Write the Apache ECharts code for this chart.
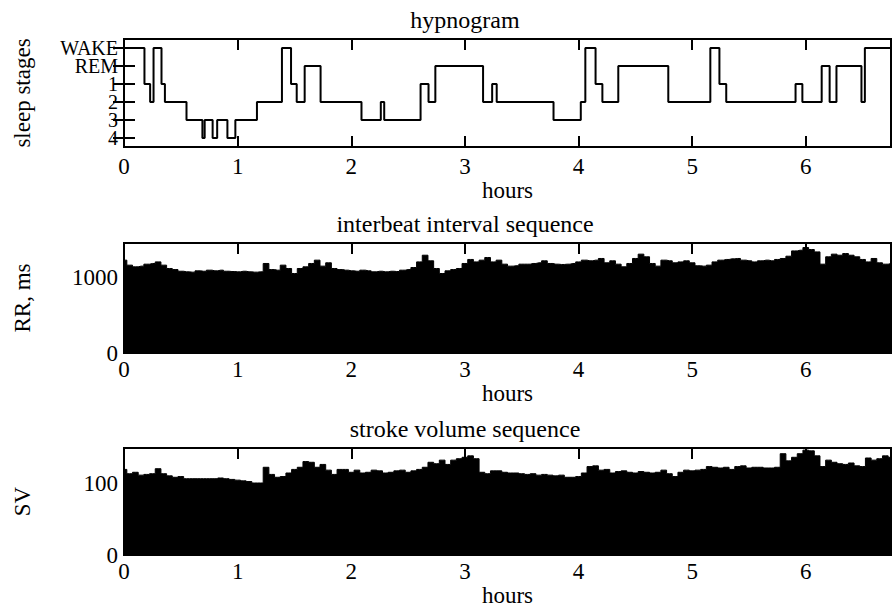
<!DOCTYPE html>
<html>
<head>
<meta charset="utf-8">
<script src="https://cdn.jsdelivr.net/npm/echarts@6/dist/echarts.min.js"></script>
<style>
  html, body { margin: 0; padding: 0; background: #fff; }
  #chart { width: 894px; height: 608px; }
</style>
</head>
<body>
<div id="chart"></div>
<script>
// hypnogram: time (h) at which each stage begins
const stageNames = ['WAKE', 'REM', '1', '2', '3', '4']
const stageTimes = [0, 0.18, 0.23, 0.26, 0.33, 0.36, 0.55, 0.69, 0.71, 0.78,
  0.82, 0.91, 0.98, 1.17, 1.39, 1.47, 1.52, 1.59, 1.73, 2.09,
  2.26, 2.29, 2.61, 2.68, 2.74, 3.16, 3.24, 3.28, 3.78, 4.02,
  4.06, 4.15, 4.21, 4.35, 4.79, 5.16, 5.24, 5.30, 5.91, 5.97,
  6.14, 6.21, 6.27, 6.49, 6.52, 6.75]
const stages = ['WAKE', '1', '2', 'WAKE', '1', '2', '3', '4', '3', '4',
  '3', '4', '3', '2', 'WAKE', '1', '2', 'REM', '2', '3',
  '2', '3', '1', '2', 'REM', '2', '1', '2', '3', '2',
  'WAKE', '1', '2', 'REM', '2', 'WAKE', '1', '2', '1', '2',
  'REM', '2', 'REM', '2', 'WAKE', 'WAKE']

// beat sequences, read every 0.05 h
const sampleStep = 0.05
const rrValues = [
  1224, 1158, 1136, 1145, 1171, 1180, 1201, 1158, 1114, 1100,
  1078, 1070, 1066, 1083, 1078, 1092, 1083, 1092, 1078, 1074,
  1070, 1078, 1070, 1066, 1070, 1180, 1100, 1092, 1158, 1114,
  1048, 1114, 1136, 1180, 1224, 1145, 1189, 1114, 1100, 1092,
  1083, 1078, 1092, 1083, 1070, 1078, 1070, 1078, 1074, 1092,
  1100, 1127, 1201, 1289, 1215, 1114, 1048, 1083, 1100, 1114,
  1180, 1233, 1201, 1224, 1259, 1201, 1224, 1171, 1145, 1150,
  1171, 1171, 1180, 1189, 1215, 1180, 1171, 1167, 1171, 1180,
  1201, 1224, 1215, 1224, 1246, 1189, 1215, 1171, 1136, 1180,
  1246, 1303, 1268, 1180, 1145, 1224, 1215, 1189, 1201, 1215,
  1189, 1150, 1145, 1158, 1201, 1224, 1233, 1241, 1246, 1224,
  1215, 1201, 1215, 1224, 1215, 1233, 1246, 1276, 1346, 1355,
  1390, 1364, 1333, 1171, 1268, 1303, 1289, 1311, 1289, 1268,
  1233, 1201, 1246, 1189, 1171, 1180]
const svValues = [
  120, 114, 116, 112, 113, 114, 121, 114, 111, 109,
  110, 107, 107, 107, 107, 107, 107, 108, 107, 106,
  105, 104, 103, 101, 101, 123, 113, 109, 110, 115,
  120, 123, 131, 130, 123, 127, 119, 113, 120, 120,
  116, 119, 115, 116, 119, 118, 115, 116, 118, 119,
  116, 118, 120, 123, 130, 128, 133, 127, 133, 135,
  137, 139, 135, 116, 114, 118, 118, 116, 115, 115,
  114, 113, 114, 112, 113, 112, 111, 112, 109, 109,
  110, 115, 124, 125, 119, 120, 115, 117, 118, 116,
  115, 117, 116, 115, 116, 119, 114, 110, 116, 119,
  118, 119, 120, 124, 123, 122, 123, 120, 124, 125,
  122, 123, 123, 122, 122, 123, 142, 132, 137, 142,
  147, 146, 139, 124, 133, 130, 128, 127, 129, 125,
  124, 136, 133, 135, 139, 137]

const hoursMax = 6.75
const font = 'Liberation Serif'
const fs = 23

const pairs = (vals) => vals.map((v, i) => [+(i * sampleStep).toFixed(2), v])

const grids = [
  { left: 124, top: 39, width: 771.5, height: 108 },
  { left: 124, top: 243, width: 771.5, height: 110 },
  { left: 124, top: 448, width: 771.5, height: 109 }
]

const tickStyle = { show: true, inside: true, length: 11, lineStyle: { color: '#000', width: 2 } }
const labelStyle = { color: '#000', fontFamily: font, fontSize: fs }

function hourAxis (gridIndex, top, labelMargin, nameGap) {
  return {
    type: 'value',
    gridIndex: gridIndex,
    position: top ? 'top' : 'bottom',
    min: 0,
    max: hoursMax,
    interval: 1,
    splitLine: { show: false },
    axisLine: { show: false },
    axisTick: tickStyle,
    axisLabel: top ? { show: false } : Object.assign({
      margin: labelMargin,
      formatter: v => (Number.isInteger(v) ? String(v) : '')
    }, labelStyle),
    name: top ? '' : 'hours',
    nameLocation: 'middle',
    nameGap: nameGap,
    nameTextStyle: labelStyle
  }
}

const xAxes = [
  hourAxis(0, false, 8, 30), hourAxis(0, true),
  hourAxis(1, false, 5, 27), hourAxis(1, true),
  hourAxis(2, false, 5, 27), hourAxis(2, true)
]

const yAxes = [
  {
    type: 'category',
    gridIndex: 0,
    data: stageNames,
    inverse: true,
    axisLine: { show: false },
    axisTick: Object.assign({ alignWithLabel: true, interval: 0 }, tickStyle),
    axisLabel: { margin: 6, interval: 0, color: '#000', fontFamily: font, fontSize: 20, lineHeight: 17 },
    name: 'sleep stages',
    nameLocation: 'middle',
    nameGap: 90,
    nameTextStyle: labelStyle
  },
  {
    type: 'category',
    gridIndex: 0,
    position: 'right',
    data: stageNames,
    inverse: true,
    axisLine: { show: false },
    axisTick: Object.assign({ alignWithLabel: true, interval: 0 }, tickStyle),
    axisLabel: { show: false }
  },
  {
    type: 'value',
    gridIndex: 1,
    min: 0,
    max: 1450,
    interval: 1000,
    splitLine: { show: false },
    axisLine: { show: false },
    axisTick: tickStyle,
    axisLabel: Object.assign({ margin: 6, formatter: v => (v % 1000 === 0 ? String(v) : '') }, labelStyle),
    name: 'RR, ms',
    nameLocation: 'middle',
    nameGap: 90,
    nameTextStyle: labelStyle
  },
  {
    type: 'value',
    gridIndex: 2,
    min: 0,
    max: 150,
    interval: 100,
    splitLine: { show: false },
    axisLine: { show: false },
    axisTick: tickStyle,
    axisLabel: Object.assign({ margin: 6, formatter: v => (v % 100 === 0 ? String(v) : '') }, labelStyle),
    name: 'SV',
    nameLocation: 'middle',
    nameGap: 90,
    nameTextStyle: labelStyle
  }
]

function titleText (text, y) {
  return {
    type: 'text',
    x: 465,
    y: y,
    style: {
      text: text,
      fill: '#000',
      fontFamily: font,
      fontSize: 24,
      align: 'center',
      verticalAlign: 'middle',
      textAlign: 'center',
      textVerticalAlign: 'middle'
    }
  }
}

const filled = {
  type: 'line',
  step: 'middle',
  symbol: 'none',
  lineStyle: { color: '#000', width: 1 },
  areaStyle: { color: '#000', opacity: 1 }
}

const chart = echarts.init(document.getElementById('chart'), null, { renderer: 'svg' })
chart.setOption({
  animation: false,
  backgroundColor: '#fff',
  textStyle: { fontFamily: font, color: '#000' },
  grid: grids.map(g => Object.assign({ show: true, borderColor: '#000', borderWidth: 2, backgroundColor: 'transparent' }, g)),
  xAxis: xAxes,
  yAxis: yAxes,
  graphic: [
    titleText('hypnogram', 20),
    titleText('interbeat interval sequence', 224),
    titleText('stroke volume sequence', 429)
  ],
  series: [
    {
      type: 'line',
      xAxisIndex: 0,
      yAxisIndex: 0,
      step: 'start',
      symbol: 'none',
      lineStyle: { color: '#000', width: 2 },
      data: stageTimes.map((t, i) => [t, stages[i]])
    },
    Object.assign({ xAxisIndex: 2, yAxisIndex: 2, data: pairs(rrValues) }, filled),
    Object.assign({ xAxisIndex: 4, yAxisIndex: 3, data: pairs(svValues) }, filled)
  ]
})
</script>
</body>
</html>
